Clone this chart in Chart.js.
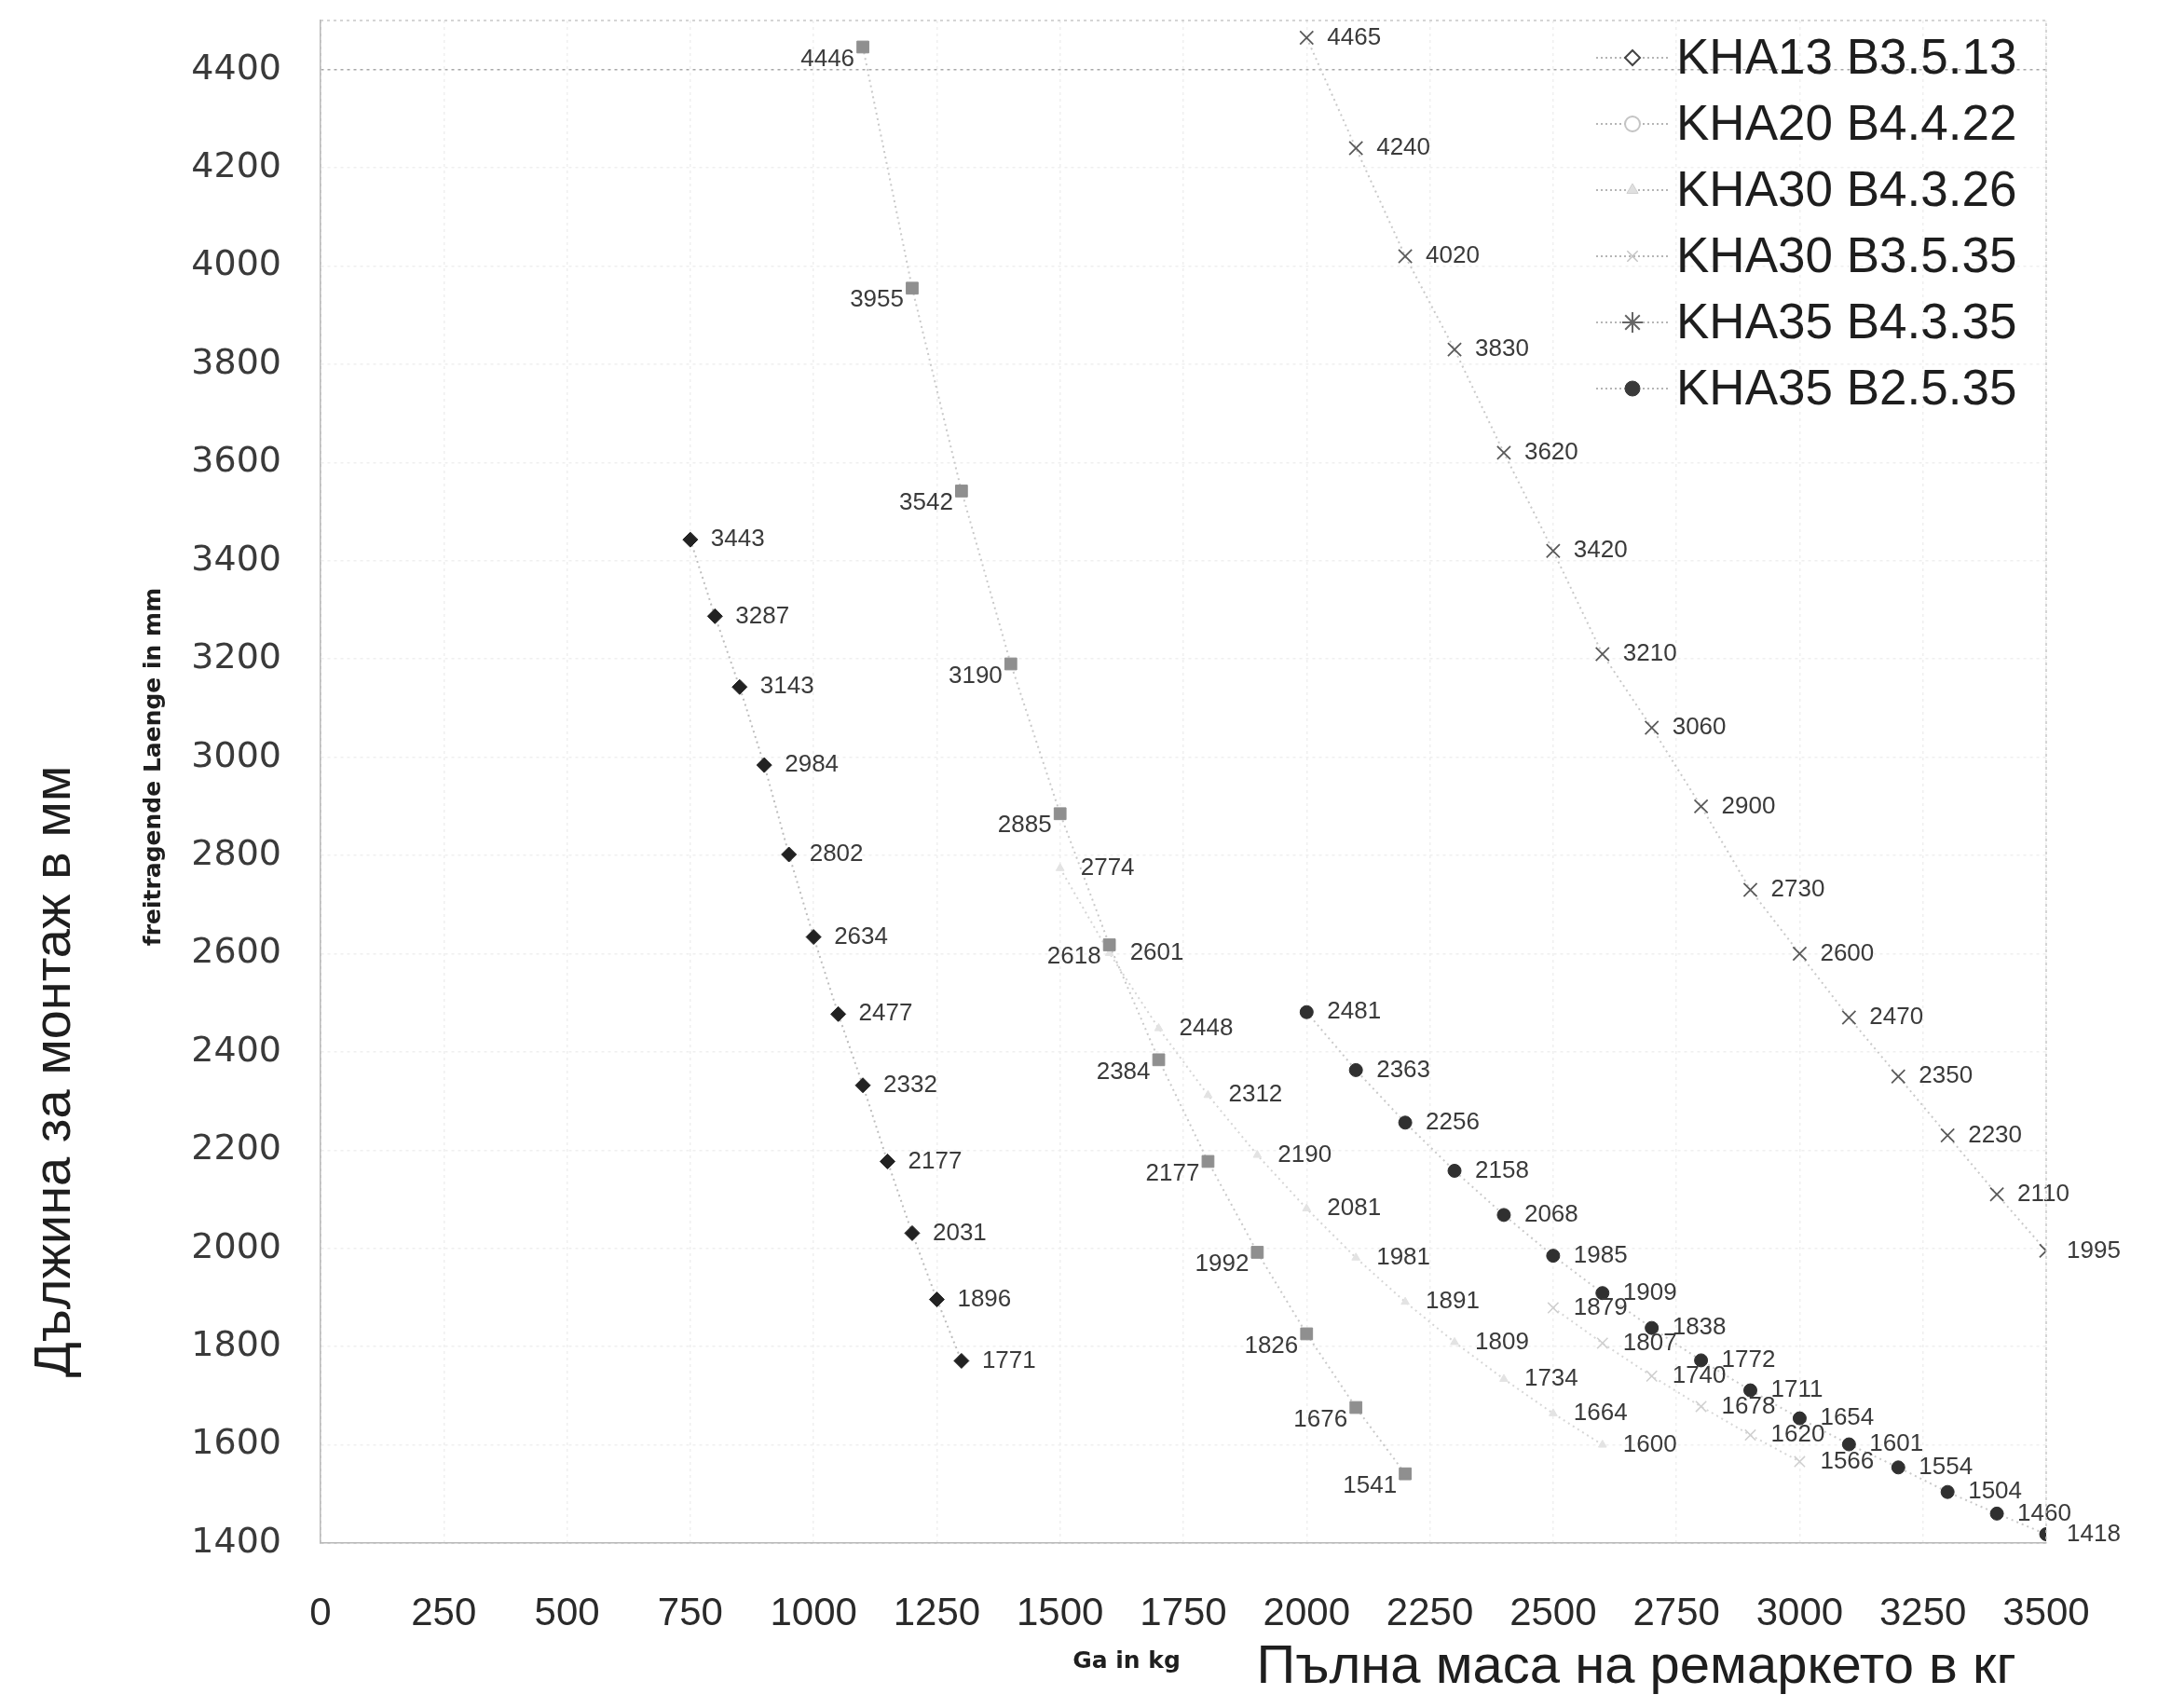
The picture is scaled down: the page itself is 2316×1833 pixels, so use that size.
<!DOCTYPE html>
<html>
<head>
<meta charset="utf-8">
<title>freitragende Laenge</title>
<script src="https://cdn.jsdelivr.net/npm/chart.js@4.4.1/dist/chart.umd.min.js"></script>
<style>
  html, body { margin: 0; padding: 0; background: #fff; }
  #wrap { width: 2316px; height: 1833px; }
</style>
</head>
<body>
<div id="wrap"><canvas id="chart" width="2316" height="1833"></canvas></div>
<script>
// пълна маса (кг) -> свободна дължина (мм), стойностите са отчетени от графиката
const seriesNames = ["KHA13 B3.5.13", "KHA20 B4.4.22", "KHA30 B4.3.26", "KHA30 B3.5.35", "KHA35 B4.3.35", "KHA35 B2.5.35"];

const massKHA13 = [750, 800, 850, 900, 950, 1000, 1050, 1100, 1150, 1200, 1250, 1300];
const lenKHA13 = [3443, 3287, 3143, 2984, 2802, 2634, 2477, 2332, 2177, 2031, 1896, 1771];

const massKHA20 = [1100, 1200, 1300, 1400, 1500, 1600, 1700, 1800, 1900, 2000, 2100, 2200];
const lenKHA20 = [4446, 3955, 3542, 3190, 2885, 2618, 2384, 2177, 1992, 1826, 1676, 1541];

const massKHA30a = [1500, 1600, 1700, 1800, 1900, 2000, 2100, 2200, 2300, 2400, 2500, 2600];
const lenKHA30a = [2774, 2601, 2448, 2312, 2190, 2081, 1981, 1891, 1809, 1734, 1664, 1600];

const massKHA30b = [2500, 2600, 2700, 2800, 2900, 3000];
const lenKHA30b = [1879, 1807, 1740, 1678, 1620, 1566];

const massKHA35a = [2000, 2100, 2200, 2300, 2400, 2500, 2600, 2700, 2800, 2900, 3000, 3100, 3200, 3300, 3400, 3500];
const lenKHA35a = [4465, 4240, 4020, 3830, 3620, 3420, 3210, 3060, 2900, 2730, 2600, 2470, 2350, 2230, 2110, 1995];

const massKHA35b = [2000, 2100, 2200, 2300, 2400, 2500, 2600, 2700, 2800, 2900, 3000, 3100, 3200, 3300, 3400, 3500];
const lenKHA35b = [2481, 2363, 2256, 2158, 2068, 1985, 1909, 1838, 1772, 1711, 1654, 1601, 1554, 1504, 1460, 1418];

const xTicks = [0, 250, 500, 750, 1000, 1250, 1500, 1750, 2000, 2250, 2500, 2750, 3000, 3250, 3500];
const yTicks = [1400, 1600, 1800, 2000, 2200, 2400, 2600, 2800, 3000, 3200, 3400, 3600, 3800, 4000, 4200, 4400];

const xTitleDe = "Ga in kg";
const yTitleDe = "freitragende Laenge in mm";
const xTitleBg = "Пълна маса на ремаркето в кг";
const yTitleBg = "Дължина за монтаж в мм";

const toPoints = (xs, ys) => xs.map((x, i) => ({ x: x, y: ys[i] }));

// подписи на стойностите до точките
const valueLabels = {
    id: "valueLabels",
    afterDatasetsDraw(chart) {
        const ctx = chart.ctx;
        ctx.save();
        ctx.font = '26px "Liberation Sans", Arial, sans-serif';
        ctx.fillStyle = "#3a3a3a";
        ctx.textBaseline = "middle";
        chart.data.datasets.forEach((ds, i) => {
            const meta = chart.getDatasetMeta(i);
            meta.data.forEach((pt, j) => {
                const txt = String(ds.data[j].y);
                if (ds.labelSide === "left") {
                    ctx.textAlign = "right";
                    ctx.fillText(txt, pt.x - 9, pt.y + 13);
                } else {
                    ctx.textAlign = "left";
                    ctx.fillText(txt, pt.x + 22, pt.y);
                }
            });
        });
        ctx.restore();
    },
};

// легенда вътре в графиката, горе вдясно
const innerLegend = {
    id: "innerLegend",
    afterDraw(chart) {
        const ctx = chart.ctx;
        ctx.save();
        ctx.font = '53px "Liberation Sans", Arial, sans-serif';
        ctx.textBaseline = "middle";
        ctx.textAlign = "left";
        chart.data.datasets.forEach((ds, i) => {
            const y = 62 + i * 71;
            const lp = ds.legendPoint;
            ctx.strokeStyle = "#b5b5b5";
            ctx.lineWidth = 2;
            ctx.setLineDash([2, 3]);
            ctx.beginPath();
            ctx.moveTo(1713, y);
            ctx.lineTo(1790, y);
            ctx.stroke();
            ctx.setLineDash([]);
            ctx.fillStyle = lp.fill;
            ctx.strokeStyle = lp.stroke;
            ctx.lineWidth = lp.width;
            Chart.helpers.drawPoint(ctx, { pointStyle: lp.style, radius: lp.radius, rotation: 0, borderWidth: lp.width }, 1752, y);
            ctx.fillStyle = "#1e1e1e";
            ctx.fillText(ds.label, 1799, y + 2);
        });
        ctx.restore();
    },
};

// заглавия на осите и рамка
const decor = {
    id: "decor",
    beforeDraw(chart) {
        const ctx = chart.ctx;
        ctx.save();
        ctx.fillStyle = "#fff";
        ctx.fillRect(0, 0, chart.width, chart.height);
        ctx.restore();
    },
    afterDraw(chart) {
        const ctx = chart.ctx;
        const a = chart.chartArea;
        ctx.save();
        ctx.strokeStyle = "#c8c8c8";
        ctx.lineWidth = 1.5;
        ctx.setLineDash([3, 4]);
        ctx.beginPath();
        ctx.moveTo(a.left, a.top);
        ctx.lineTo(a.right, a.top);
        ctx.lineTo(a.right, a.bottom);
        ctx.stroke();
        ctx.setLineDash([]);

        ctx.fillStyle = "#1e1e1e";
        ctx.textAlign = "center";
        ctx.textBaseline = "middle";

        ctx.font = 'bold 25px "DejaVu Sans", sans-serif';
        ctx.fillText(xTitleDe, 1209, 1783);

        ctx.font = '58px "Liberation Sans", Arial, sans-serif';
        ctx.fillText(xTitleBg, 1756, 1790);

        ctx.save();
        ctx.translate(165, 823);
        ctx.rotate(-Math.PI / 2);
        ctx.font = 'bold 25px "DejaVu Sans", sans-serif';
        ctx.fillText(yTitleDe, 0, 0);
        ctx.restore();

        ctx.save();
        ctx.translate(60, 1150);
        ctx.rotate(-Math.PI / 2);
        ctx.font = '56px "Liberation Sans", Arial, sans-serif';
        ctx.fillText(yTitleBg, 0, 0);
        ctx.restore();

        ctx.restore();
    },
};

const lineStyle = (color) => ({ borderColor: color, borderWidth: 2, borderDash: [2, 4], showLine: true, fill: false });

const ctx = document.getElementById("chart").getContext("2d");
new Chart(ctx, {
    type: "scatter",
    data: {
        datasets: [
            {
                label: seriesNames[0],
                data: toPoints(massKHA13, lenKHA13),
                ...lineStyle("#bdbdbd"),
                pointStyle: "rectRot", pointRadius: 8,
                pointBackgroundColor: "#222", pointBorderColor: "#222", pointBorderWidth: 1,
                labelSide: "right",
                legendPoint: { style: "rectRot", radius: 8, fill: "#fff", stroke: "#444", width: 2 },
            },
            {
                label: seriesNames[1],
                data: toPoints(massKHA20, lenKHA20),
                ...lineStyle("#c9c9c9"),
                pointStyle: "rect", pointRadius: 9,
                pointBackgroundColor: "#8f8f8f", pointBorderColor: "#8f8f8f", pointBorderWidth: 1,
                labelSide: "left",
                legendPoint: { style: "circle", radius: 8, fill: "#fff", stroke: "#c4c4c4", width: 2 },
            },
            {
                label: seriesNames[2],
                data: toPoints(massKHA30a, lenKHA30a),
                ...lineStyle("#d6d6d6"),
                pointStyle: "triangle", pointRadius: 5,
                pointBackgroundColor: "#e3e3e3", pointBorderColor: "#e3e3e3", pointBorderWidth: 1,
                labelSide: "right",
                legendPoint: { style: "triangle", radius: 7, fill: "#e0e0e0", stroke: "#d0d0d0", width: 1 },
            },
            {
                label: seriesNames[3],
                data: toPoints(massKHA30b, lenKHA30b),
                ...lineStyle("#d6d6d6"),
                pointStyle: "crossRot", pointRadius: 8,
                pointBackgroundColor: "#d0d0d0", pointBorderColor: "#cfcfcf", pointBorderWidth: 1.5,
                labelSide: "right",
                legendPoint: { style: "crossRot", radius: 8, fill: "#ccc", stroke: "#c4c4c4", width: 1.5 },
            },
            {
                label: seriesNames[4],
                data: toPoints(massKHA35a, lenKHA35a),
                ...lineStyle("#c9c9c9"),
                pointStyle: "crossRot", pointRadius: 10,
                pointBackgroundColor: "#5a5a5a", pointBorderColor: "#5a5a5a", pointBorderWidth: 1.8,
                labelSide: "right",
                legendPoint: { style: "star", radius: 11, fill: "#666", stroke: "#666", width: 2 },
            },
            {
                label: seriesNames[5],
                data: toPoints(massKHA35b, lenKHA35b),
                ...lineStyle("#c9c9c9"),
                pointStyle: "circle", pointRadius: 7,
                pointBackgroundColor: "#303030", pointBorderColor: "#303030", pointBorderWidth: 1,
                labelSide: "right",
                legendPoint: { style: "circle", radius: 8, fill: "#3a3a3a", stroke: "#3a3a3a", width: 1 },
            },
        ],
    },
    options: {
        responsive: false,
        animation: false,
        devicePixelRatio: 1,
        layout: { padding: { top: 22, right: 120, left: 0, bottom: 0 } },
        plugins: {
            legend: { display: false },
            tooltip: { enabled: false },
        },
        scales: {
            x: {
                type: "linear",
                min: 0,
                max: 3500,
                afterBuildTicks: (scale) => { scale.ticks = xTicks.map((v) => ({ value: v })); },
                afterFit: (scale) => {
                    scale.height = 177;
                    scale.paddingLeft = 0;
                    scale.paddingRight = 0;
                },
                ticks: {
                    autoSkip: false,
                    maxRotation: 0,
                    padding: 51,
                    color: "#2a2a2a",
                    callback: (v) => String(v),
                    font: { family: '"Liberation Sans Narrow", "Liberation Sans", Arial, sans-serif', size: 42 },
                },
                grid: {
                    drawTicks: false,
                    lineWidth: 1.5,
                    color: (c) => (c.tick && c.tick.value === 0 ? "#bdbdbd" : "#efefef"),
                },
                border: { display: true, color: "#b8b8b8", width: 1.5, dash: [3, 4] },
            },
            y: {
                type: "linear",
                min: 1400,
                max: 4500,
                afterBuildTicks: (scale) => { scale.ticks = yTicks.map((v) => ({ value: v })); },
                afterFit: (scale) => {
                    scale.width = 344;
                    scale.paddingTop = 0;
                    scale.paddingBottom = 0;
                },
                ticks: {
                    autoSkip: false,
                    padding: 42,
                    color: "#3a3a3a",
                    callback: (v) => String(v),
                    font: { family: '"DejaVu Sans", sans-serif', size: 38 },
                },
                grid: {
                    drawTicks: false,
                    lineWidth: 1.5,
                    color: (c) => {
                        if (!c.tick) return "#efefef";
                        if (c.tick.value === 4400) return "#a8a8a8";
                        if (c.tick.value === 1400) return "#b8b8b8";
                        return "#efefef";
                    },
                },
                border: { display: true, color: "#b8b8b8", width: 1.5, dash: [3, 4] },
            },
        },
    },
    plugins: [decor, valueLabels, innerLegend],
});
</script>
</body>
</html>
